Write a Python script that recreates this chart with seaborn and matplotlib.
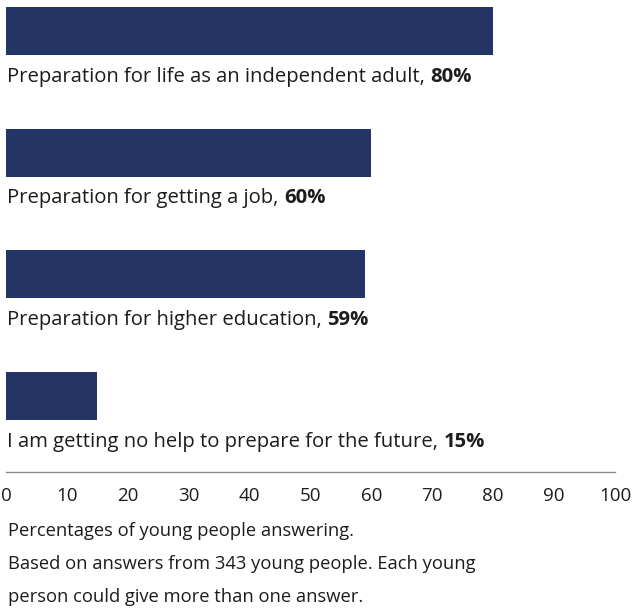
import matplotlib
matplotlib.use("Agg")
import matplotlib.pyplot as plt
import seaborn as sns
import pandas as pd

# Data
categories = [
    "Preparation for life as an independent adult",
    "Preparation for getting a job",
    "Preparation for higher education",
    "I am getting no help to prepare for the future",
]
values = [80, 60, 59, 15]
ticks = [0, 10, 20, 30, 40, 50, 60, 70, 80, 90, 100]
caption = [
    "Percentages of young people answering.",
    "Based on answers from 343 young people. Each young",
    "person could give more than one answer.",
]

BAR_COLOR = "#233465"
TEXT_COLOR = "#1c1c1c"

sns.set_theme(style="white")
plt.rcParams["font.family"] = ["Open Sans", "Noto Sans", "DejaVu Sans"]

df = pd.DataFrame({"cat": categories, "val": values})

W, H = 634, 610
fig = plt.figure(figsize=(W / 100, H / 100), dpi=100)
ax = fig.add_axes([6 / W, (H - 472) / H, (615 - 6) / W, 472 / H])

sns.barplot(data=df, x="val", y="cat", orient="h", color=BAR_COLOR,
            width=0.394, saturation=1, linewidth=0, ax=ax)

ax.set_xlim(0, 100)
ax.set_ylim(3.624, -0.255)
ax.set_xlabel("")
ax.set_ylabel("")
ax.set_yticks([])
ax.set_xticks(ticks)
ax.set_xticklabels([str(t) for t in ticks], fontsize=13.5, color=TEXT_COLOR)
ax.tick_params(axis="x", length=0, pad=11)
for s in ["top", "left", "right"]:
    ax.spines[s].set_visible(False)
ax.spines["bottom"].set_color("#8a8a8a")
ax.spines["bottom"].set_linewidth(1.0)

# labels under bars
for i, (cat, v) in enumerate(zip(categories, values)):
    t = ax.annotate(cat + ", ", xy=(0, i + 0.197), xytext=(1, -8.5),
                    textcoords="offset points", ha="left", va="top",
                    fontsize=14.6, color=TEXT_COLOR)
    ax.annotate(f"{v}%", xy=(1, 0), xycoords=t, ha="left", va="bottom",
                fontsize=14.6, color=TEXT_COLOR, fontweight="bold")

for k, line in enumerate(caption):
    fig.text(8 / W, 1 - (531 + 33 * k) / H, line, ha="left", va="center",
             fontsize=13.2, color=TEXT_COLOR)

fig.savefig("out.png", dpi=100)
